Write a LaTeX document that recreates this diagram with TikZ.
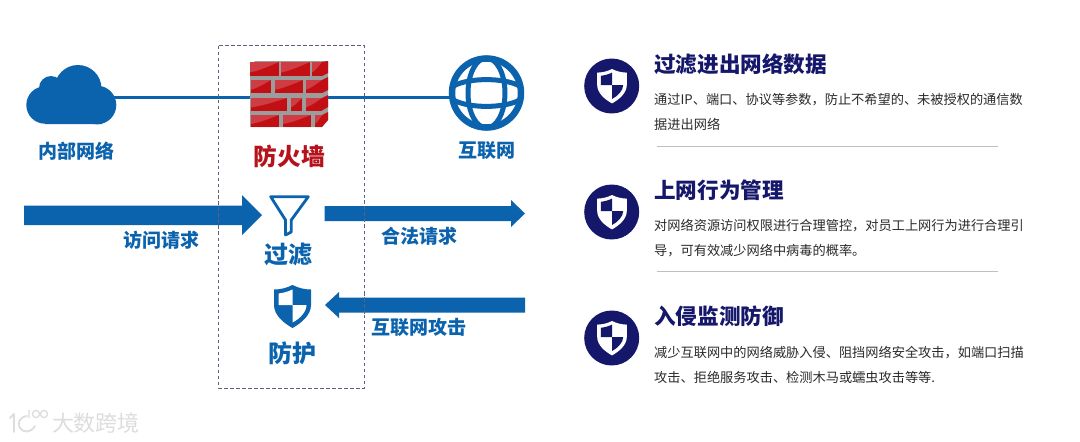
\documentclass[tikz,border=0pt]{standalone}
\usepackage{fontspec}
\setmainfont{Noto Sans CJK SC}
\definecolor{netblue}{HTML}{0B63AD}
\definecolor{navy}{HTML}{15176A}
\definecolor{wallred}{HTML}{B5121B}
\definecolor{brickred}{HTML}{C20F14}
\definecolor{bricklight}{HTML}{CE3D43}
\definecolor{mortar}{HTML}{9C9C9C}
\definecolor{boxline}{HTML}{5F5F80}
\definecolor{bodytext}{HTML}{2A2A2A}
\definecolor{markgrey}{HTML}{DDDDDD}
\newcommand\brick[4]{%
  \fill[brickred] (#1,#2) rectangle (#3,#4);
  \fill[bricklight] (#1,#2) -- (#3,#2) .. controls ({#1+0.6*(#3-#1)},{#2+0.35*(#4-#2)}) and ({#1+0.35*(#3-#1)},{#2+0.6*(#4-#2)}) .. (#1,{#2+0.75*(#4-#2)}) -- cycle;
}
\newcommand\shieldicon[5]{%
  \begin{scope}[shift={(#1,#2)},scale=#3]
    \fill[#4] (0,-20) .. controls (6,-17) and (12,-15.5) .. (18.5,-15.5) -- (18.5,0) .. controls (18.5,10) and (9,18) .. (0,23) .. controls (-9,18) and (-18.5,10) .. (-18.5,0) -- (-18.5,-15.5) .. controls (-12,-15.5) and (-6,-17) .. (0,-20) -- cycle;
    \begin{scope}
      \clip (-20,-22) rectangle (0,0) (0,0) rectangle (20,25);
      \fill[#5] (0,-15.5) .. controls (5,-13) and (10,-12) .. (14,-11.5) -- (14,0) .. controls (14,7) and (7,14) .. (0,17.5) .. controls (-7,14) and (-14,7) .. (-14,0) -- (-14,-11.5) .. controls (-10,-12) and (-5,-13) .. (0,-15.5) -- cycle;
    \end{scope}
  \end{scope}
}
\tikzset{
  flow/.style={fill=netblue,draw=none},
  blueb/.style={text=netblue,font=\bfseries\fontsize{19}{20}\selectfont,inner sep=0pt},
  bigb/.style={text=netblue,font=\bfseries\fontsize{24}{26}\selectfont,inner sep=0pt},
  headline/.style={text=navy,anchor=west,font=\bfseries\fontsize{21.6}{24}\selectfont,inner sep=0pt},
  bodyline/.style={text=bodytext,anchor=west,align=left,font=\fontsize{13.2}{25}\selectfont,inner sep=0pt},
  sep/.style={draw=black!25,line width=0.8pt},
  badge/.style={circle,fill=navy,minimum size=55pt,inner sep=0pt}
}
\begin{document}
\begin{tikzpicture}[x=1pt,y=-1pt]
\useasboundingbox (0,0) rectangle (1080,442);
\fill[white] (0,0) rectangle (1080,442);
\coordinate (cloudedge) at (114,97);
\coordinate (wallc) at (289,97);
\coordinate (globec) at (487,97);
\draw[netblue,line width=3pt] (cloudedge) -- (wallc) -- (globec);
\draw[boxline,dashed,line width=0.9pt,dash pattern=on 3.5pt off 2.5pt] (218.5,45.5) rectangle (364,388);
% cloud
\fill[netblue] (45,105) circle (18.7) (51,88) circle (12) (78,88.5) circle (23.5) (97,105) circle (19.3);
\fill[netblue] (45,105) rectangle (102,124) (45,90) rectangle (90,110);
\node[blueb] (inner) at (76,151) {内部网络};
% firewall
\fill[mortar] (250,66) -- (255,61) -- (328,61) -- (328,120) -- (322,127) -- (250,127) -- cycle;
\brick{250}{62}{279}{76}\brick{281}{62}{310}{76}\brick{312}{62}{322}{76}
\brick{251}{80}{271}{93}\brick{275}{80}{303}{93}\brick{306}{80}{322}{93}
\brick{251}{98}{287}{110.5}\brick{291}{98}{302}{110.5}\brick{306}{98}{322}{110.5}
\brick{251}{115}{279}{127}\brick{283}{115}{311}{127}\brick{315}{115}{322}{127}
\fill[brickred] (322,62) -- (328,61) -- (328,73) -- (322,76) -- cycle;
\fill[brickred] (322,80) -- (328,77) -- (328,90) -- (322,93) -- cycle;
\fill[brickred] (322,98) -- (328,95) -- (328,107) -- (322,110.5) -- cycle;
\fill[brickred] (322,115) -- (328,112) -- (328,120) -- (322,127) -- cycle;
\node[text=wallred,font=\bfseries\fontsize{23.7}{26}\selectfont,inner sep=0pt] (walllabel) at (289.5,156) {防火墙};
% globe
\begin{scope}[shift={(486.5,93)}]
  \draw[netblue,line width=6.5pt,fill=white] (0,0) circle (34.5);
  \draw[netblue,line width=5pt] (0,0) ellipse (18.5 and 35);
  \draw[netblue,line width=5pt] (-33,-7) .. controls (-18,-15.5) and (18,-15.5) .. (33,-7);
  \draw[netblue,line width=5pt] (-33,7) .. controls (-18,15.5) and (18,15.5) .. (33,7);
\end{scope}
\node[blueb] (netlabel) at (487,151) {互联网};
% flow arrows
\fill[flow] (24,205.5) -- (242,205.5) -- (242,195) -- (262,215) -- (242,235) -- (242,225) -- (24,225) -- cycle;
\fill[flow] (324.5,206) -- (511,206) -- (511,200) -- (525,213.5) -- (511,227) -- (511,221) -- (324.5,221) -- cycle;
\fill[flow] (525,297.5) -- (339,297.5) -- (339,292) -- (325,305) -- (339,318) -- (339,312.5) -- (525,312.5) -- cycle;
\draw[boxline,dashed,line width=0.9pt,dash pattern=on 3.5pt off 2.5pt] (218.5,195) -- (218.5,235) (364,200) -- (364,227) (364,292) -- (364,318);
\node[blueb] (req) at (161.5,240) {访问请求};
\node[blueb] (legal) at (419,236.5) {合法请求};
\node[blueb] (attack) at (419,327.5) {互联网攻击};
% funnel
\draw[netblue,line width=2.8pt,line join=round] (270.7,196.7) -- (308.3,196.7) -- (291.3,220) -- (291.3,232) -- (285.5,235) -- (285.5,220) -- cycle;
\node[bigb] (filterlabel) at (288,255) {过滤};
% shield
\shieldicon{292.5}{305}{1}{netblue}{white}
\node[bigb] (guardlabel) at (292.5,353) {防护};
% right column
\node[badge] (b1) at (611.7,86) {};
\node[badge] (b2) at (611.7,212) {};
\node[badge] (b3) at (611.7,338) {};
\shieldicon{612}{85}{0.8}{white}{navy}
\shieldicon{612}{211}{0.8}{white}{navy}
\shieldicon{612}{337}{0.8}{white}{navy}
\node[headline] (t1) at (654,64) {过滤进出网络数据};
\node[bodyline] (d1) at (654,111.5) {通过IP、端口、协议等参数，防止不希望的、未被授权的通信数\\据进出网络};
\draw[sep] (657,146.5) -- (998,146.5);
\node[headline] (t2) at (654,190.5) {上网行为管理};
\node[bodyline] (d2) at (654,238.5) {对网络资源访问权限进行合理管控，对员工上网行为进行合理引\\导，可有效减少网络中病毒的概率。};
\draw[sep] (657,271.5) -- (998,271.5);
\node[headline] (t3) at (654,316.5) {入侵监测防御};
\node[bodyline] (d3) at (654,364.5) {减少互联网中的网络威胁入侵、阻挡网络安全攻击，如端口扫描\\攻击、拒绝服务攻击、检测木马或蠕虫攻击等等.};
% watermark
\draw[markgrey,line width=1.8pt,line cap=round,line join=round] (10,418) -- (14,414) -- (14,432) (27,416) .. controls (19,417) and (17,424) .. (20,428) .. controls (23,433) and (31,433) .. (35,426);
\draw[markgrey,line width=1.3pt] (29,410) -- (29,418) (36,414) circle (3.6) (44,414) circle (3.6);
\node[text=markgrey,font=\fontsize{22}{24}\selectfont,inner sep=0pt] (mark) at (96,423) {大数跨境};
\end{tikzpicture}
\end{document}
